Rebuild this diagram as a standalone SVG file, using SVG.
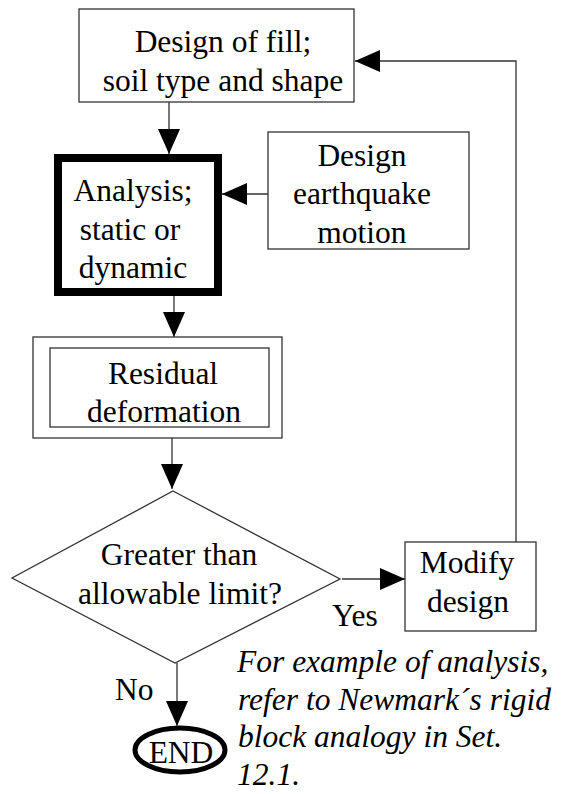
<svg xmlns="http://www.w3.org/2000/svg" width="570" height="794" viewBox="0 0 570 794">
  <style>
    .box { fill: #fff; stroke: #333; stroke-width: 1.3; }
    .thick { fill: #fff; stroke: #000; stroke-width: 8; }
    .oval { fill: #fff; stroke: #000; stroke-width: 5; }
    .line { fill: none; stroke: #333; stroke-width: 1.3; }
  </style>
  <defs>
    <marker id="arrow" markerUnits="userSpaceOnUse" markerWidth="26" markerHeight="24" refX="25" refY="11" orient="auto" overflow="visible">
      <path d="M0,0 L25,11 L0,22 Z" fill="#000"/>
    </marker>
  </defs>

  <rect width="570" height="794" fill="#fff"/>

  <!-- connectors -->
  <g id="connectors">
    <line class="line" x1="169" y1="102" x2="169" y2="154" marker-end="url(#arrow)"/>
    <line class="line" x1="268" y1="194" x2="222" y2="194" marker-end="url(#arrow)"/>
    <line class="line" x1="174" y1="296" x2="174" y2="337" marker-end="url(#arrow)"/>
    <line class="line" x1="172" y1="438" x2="172" y2="489" marker-end="url(#arrow)"/>
    <line class="line" x1="342" y1="579" x2="405" y2="579" marker-end="url(#arrow)"/>
    <polyline class="line" points="516,542 516,61 355,61" marker-end="url(#arrow)"/>
    <line class="line" x1="177" y1="663" x2="177" y2="726" marker-end="url(#arrow)"/>
  </g>

  <g font-family="Liberation Serif, Times New Roman, Noto Serif, FreeSerif, DejaVu Serif, serif" font-size="31.5" fill="#000" text-anchor="middle">
    <!-- design of fill -->
    <g id="design-fill">
      <rect class="box" x="79" y="9" width="275" height="93"/>
      <text x="223" y="52">Design of fill;</text>
      <text x="223" y="91">soil type and shape</text>
    </g>

    <!-- analysis -->
    <g id="analysis">
      <rect class="thick" x="58" y="158" width="160" height="134"/>
      <text x="133" y="201">Analysis;</text>
      <text x="130" y="240">static or</text>
      <text x="133" y="278">dynamic</text>
    </g>

    <!-- design earthquake motion -->
    <g id="earthquake">
      <rect class="box" x="268" y="132" width="201" height="117"/>
      <text x="362" y="166">Design</text>
      <text x="362" y="204">earthquake</text>
      <text x="362" y="243">motion</text>
    </g>

    <!-- residual deformation -->
    <g id="residual">
      <rect class="box" x="33" y="337" width="249" height="101"/>
      <rect class="box" x="50" y="348" width="219" height="79"/>
      <text x="163" y="384">Residual</text>
      <text x="164" y="422">deformation</text>
    </g>

    <!-- decision -->
    <g id="decision">
      <polygon class="box" points="173,491 340,579 175,663 12,578"/>
      <text x="179" y="565">Greater than</text>
      <text x="180" y="604">allowable limit?</text>
    </g>

    <!-- modify design -->
    <g id="modify">
      <rect class="box" x="405" y="542" width="131" height="89"/>
      <text x="467" y="573">Modify</text>
      <text x="468" y="612">design</text>
    </g>

    <!-- branch labels -->
    <g id="labels" text-anchor="start">
      <text x="332" y="626">Yes</text>
      <text x="115" y="700">No</text>
    </g>

    <!-- end -->
    <g id="end">
      <ellipse class="oval" cx="180" cy="750" rx="45" ry="22"/>
      <text x="181" y="763">END</text>
    </g>

    <!-- note -->
    <g id="note" font-style="italic" text-anchor="start">
      <text x="237" y="672">For example of analysis,</text>
      <text x="238" y="710">refer to Newmark´s rigid</text>
      <text x="238" y="747">block analogy in Set.</text>
      <text x="237" y="785">12.1.</text>
    </g>
  </g>
</svg>
